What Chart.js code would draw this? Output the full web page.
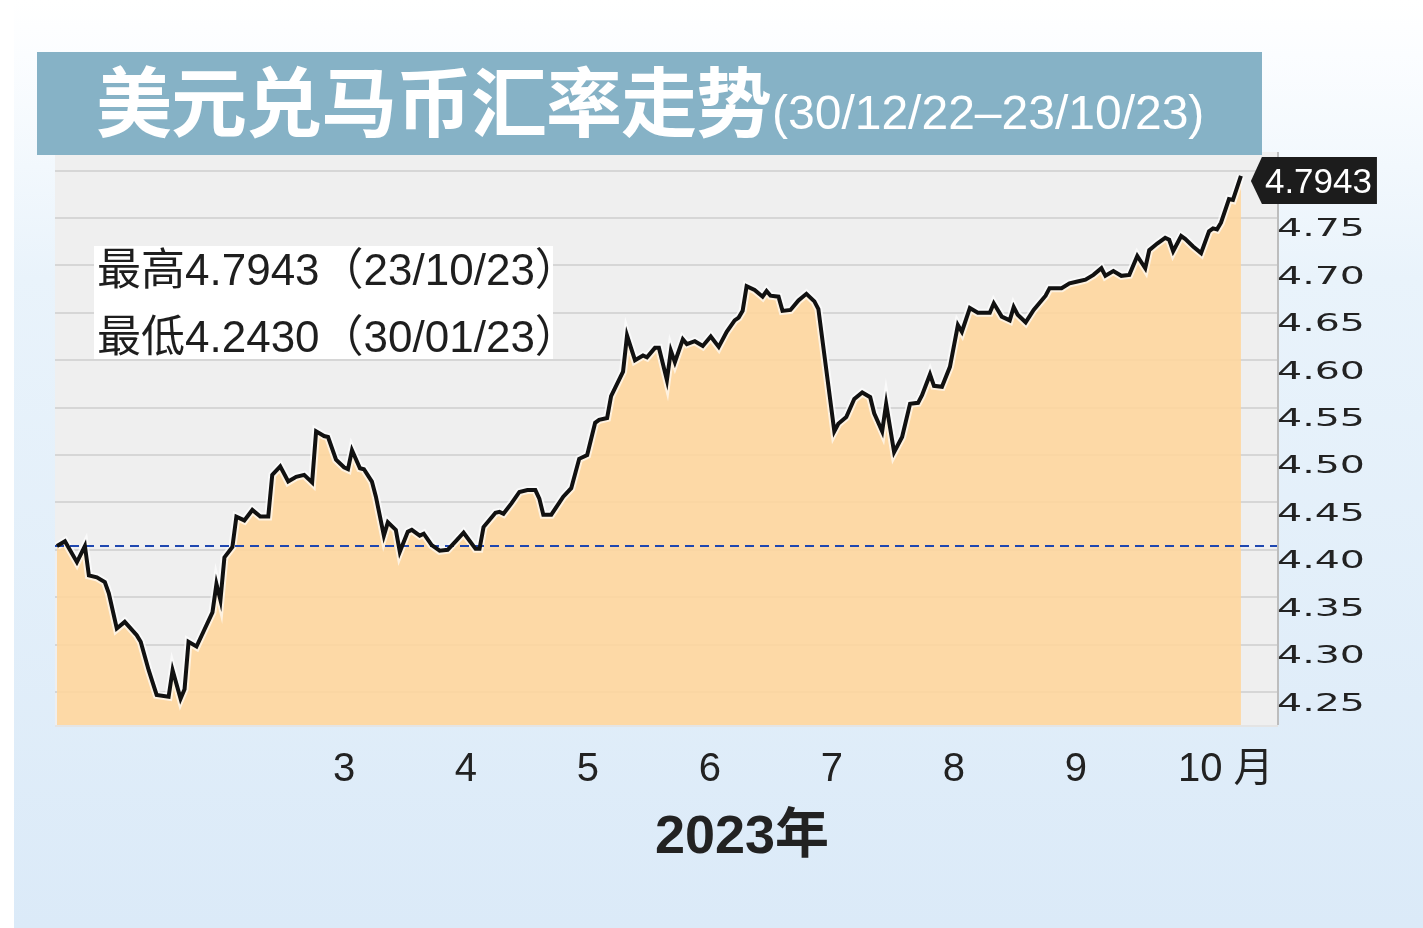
<!DOCTYPE html>
<html lang="zh">
<head>
<meta charset="utf-8">
<title>美元兑马币汇率走势</title>
<script src="https://cdn.jsdelivr.net/npm/chart.js@4.4.0/dist/chart.umd.min.js"></script>
<style>
  html, body { margin: 0; padding: 0; overflow: hidden; background: #fff; }
  #wrap { position: relative; width: 1423px; height: 928px; }
</style>
</head>
<body>
<div id="wrap"><canvas id="fx" width="1423" height="928"></canvas></div>
<script>
// USD/MYR trend 30/12/22 - 23/10/23
// x = days counted from 30/12/22
const tradeDays = [
  0, 2, 5, 7, 8, 10, 12, 13, 15, 17, 20, 21, 23, 25, 28, 29, 31, 32, 33, 35, 39, 40, 41, 42, 44, 45, 47, 49,
  51, 53, 54, 56, 58, 60, 62, 64, 65, 67, 68, 70, 72, 73, 74, 76, 77, 79, 80, 82, 83, 85, 86, 88, 89, 91, 92, 94, 96, 98, 100,
  102, 105, 106, 107, 110, 111, 112, 114, 116, 118, 120, 121, 122, 124, 127, 129, 131, 133, 135, 136, 138, 139, 142, 143, 145, 147, 148, 150,
  151, 153, 154, 155, 157, 158, 160, 162, 164, 166, 168, 170, 171, 172, 173, 175, 177, 178, 179, 181, 182, 184, 186, 188, 190, 191, 195, 196, 198, 200,
  202, 204, 205, 207, 208, 210, 212, 214, 216, 217, 219, 220, 222, 224, 226, 227, 229, 231, 234, 235, 237, 239, 240, 241, 243, 245, 248, 249,
  252, 254, 256, 258, 260, 262, 263, 265, 267, 269, 271, 273, 274, 276, 278, 279, 280, 282, 283, 285, 287, 289, 290, 291, 292, 294, 295, 297
];
const usdMyr = [
  4.404, 4.409, 4.387, 4.404, 4.373, 4.371, 4.366, 4.354, 4.317, 4.324, 4.310, 4.303, 4.273, 4.247, 4.245, 4.273, 4.243, 4.253, 4.303, 4.298, 4.334, 4.364, 4.347, 4.392, 4.403, 4.435, 4.431, 4.442,
  4.435, 4.435, 4.479, 4.488, 4.472, 4.477, 4.479, 4.471, 4.525, 4.520, 4.519, 4.495, 4.487, 4.485, 4.505, 4.486, 4.485, 4.472, 4.456, 4.415, 4.429, 4.421, 4.398, 4.419, 4.421, 4.415, 4.417, 4.405, 4.399, 4.400, 4.409,
  4.418, 4.401, 4.401, 4.424, 4.439, 4.440, 4.438, 4.449, 4.461, 4.463, 4.463, 4.454, 4.437, 4.437, 4.456, 4.465, 4.496, 4.500, 4.534, 4.537, 4.539, 4.562, 4.588, 4.626, 4.600, 4.605, 4.603, 4.613,
  4.613, 4.579, 4.610, 4.598, 4.622, 4.617, 4.620, 4.615, 4.625, 4.614, 4.630, 4.642, 4.645, 4.652, 4.678, 4.674, 4.667, 4.673, 4.668, 4.667, 4.652, 4.653, 4.663, 4.670, 4.662, 4.654, 4.525, 4.533, 4.540, 4.559,
  4.566, 4.561, 4.544, 4.525, 4.554, 4.503, 4.519, 4.554, 4.555, 4.563, 4.585, 4.573, 4.572, 4.593, 4.637, 4.630, 4.655, 4.650, 4.650, 4.660, 4.646, 4.642, 4.656, 4.648, 4.640, 4.653, 4.668, 4.676,
  4.676, 4.681, 4.683, 4.685, 4.690, 4.697, 4.689, 4.694, 4.689, 4.690, 4.710, 4.697, 4.716, 4.723, 4.729, 4.727, 4.715, 4.731, 4.728, 4.720, 4.713, 4.736, 4.739, 4.738, 4.745, 4.770, 4.769, 4.7943
];
const refRate = 4.404; // dashed line: level at start of year

const yTicks = [4.25, 4.30, 4.35, 4.40, 4.45, 4.50, 4.55, 4.60, 4.65, 4.70, 4.75, 4.80];
const yTickLabels = ['4.25', '4.30', '4.35', '4.40', '4.45', '4.50', '4.55', '4.60', '4.65', '4.70', '4.75', ''];

const monthLabels = ['3', '4', '5', '6', '7', '8', '9', '10 月'];
const monthLabelDays = [72, 102.6, 133.2, 163.8, 194.4, 225, 255.6, 293.2];

const titleMain = '美元兑马币汇率走势';
const titleRange = '(30/12/22–23/10/23)';
const highText = '最高4.7943（23/10/23）';
const lowText = '最低4.2430（30/01/23）';
const yearText = '2023年';
const lastText = '4.7943';

const pts = tradeDays.map((d, i) => ({x: d, y: usdMyr[i]}));

// background, title, labels and the end tag
const paper = {
  id: 'paper',
  beforeDraw(chart) {
    const {ctx, width, height, chartArea: a} = chart;
    const g = ctx.createLinearGradient(0, 0, 0, height);
    g.addColorStop(0, '#ffffff');
    g.addColorStop(0.06, '#fbfdff');
    g.addColorStop(0.3, '#e9f3fb');
    g.addColorStop(1, '#dbeaf8');
    ctx.save();
    ctx.fillStyle = g;
    ctx.fillRect(0, 0, width, height);
    ctx.fillStyle = '#ffffff';
    ctx.fillRect(0, 0, 14, height);
    ctx.fillStyle = '#efefef';
    ctx.fillRect(a.left, a.top, a.right - a.left, a.bottom - a.top);
    ctx.restore();
  },
  afterDraw(chart) {
    const {ctx, chartArea: a} = chart;
    const xs = chart.scales.x, ys = chart.scales.y;
    ctx.save();

    // plot frame
    ctx.fillStyle = '#bdbdbd';
    ctx.fillRect(a.right - 1, a.top, 2, a.bottom - a.top);
    ctx.fillStyle = '#e4e4e4';
    ctx.fillRect(a.left, a.bottom, a.right - a.left, 2);

    // y labels (wide face)
    ctx.fillStyle = '#222';
    ctx.font = '25px "DejaVu Sans"';
    ctx.textAlign = 'left';
    ctx.textBaseline = 'middle';
    const sx = 88 / ctx.measureText('4.75').width;
    yTicks.forEach((v, i) => {
      if (!yTickLabels[i]) return;
      ctx.save();
      ctx.translate(a.right - 1, ys.getPixelForValue(v) + 12);
      ctx.scale(sx, 1);
      ctx.fillText(yTickLabels[i], 0, 0);
      ctx.restore();
    });

    // month labels
    ctx.font = '40px "Liberation Sans", "Noto Sans CJK SC"';
    ctx.textAlign = 'center';
    monthLabels.forEach((m, i) => {
      ctx.fillText(m, xs.getPixelForValue(monthLabelDays[i]), a.bottom + 45);
    });
    ctx.font = 'bold 54px "Liberation Sans", "Noto Sans CJK SC"';
    ctx.textBaseline = 'alphabetic';
    ctx.fillText(yearText, 742, a.bottom + 128);

    // title bar
    ctx.fillStyle = '#86b2c6';
    ctx.fillRect(37, 52, 1225, 103);
    ctx.fillStyle = '#ffffff';
    ctx.textAlign = 'left';
    ctx.font = 'bold 76px "Noto Sans CJK SC"';
    ctx.letterSpacing = '-1px';
    ctx.fillText(titleMain, 96, 131);
    ctx.letterSpacing = '0px';
    ctx.font = '48px "Liberation Sans"';
    ctx.fillText(titleRange, 772, 129);

    // high / low note
    ctx.fillStyle = '#ffffff';
    ctx.fillRect(94, 246, 459, 113);
    ctx.fillStyle = '#1e1e1e';
    ctx.font = '44px "Liberation Sans", "Noto Sans CJK SC"';
    ctx.fillText(highText, 97, 285);
    ctx.fillText(lowText, 97, 352);

    // end value tag pointing at the last point
    const meta = chart.getDatasetMeta(2);
    const p = meta.data[meta.data.length - 1];
    const tx = p.x + 10, ty = p.y + 5;
    ctx.fillStyle = '#1c1c1c';
    ctx.beginPath();
    ctx.moveTo(tx, ty);
    ctx.lineTo(tx + 11, ty - 24);
    ctx.lineTo(tx + 126, ty - 24);
    ctx.lineTo(tx + 126, ty + 23);
    ctx.lineTo(tx + 11, ty + 23);
    ctx.closePath();
    ctx.fill();
    ctx.fillStyle = '#ffffff';
    ctx.font = '35px "Liberation Sans"';
    ctx.fillText(lastText, tx + 14, ty + 12);

    ctx.restore();
  }
};

new Chart(document.getElementById('fx'), {
  type: 'line',
  data: {
    datasets: [
      { // halo under the line + area fill
        data: pts, order: 3,
        borderColor: 'rgba(255,255,255,0.65)', borderWidth: 8,
        fill: 'start', backgroundColor: 'rgba(255,214,156,0.875)',
        pointRadius: 0, tension: 0
      },
      {
        data: [{x: -0.5, y: refRate}, {x: 306.3, y: refRate}], order: 2,
        borderColor: '#1f47b0', borderWidth: 2, borderDash: [9, 6],
        fill: false, pointRadius: 0
      },
      {
        data: pts, order: 1,
        borderColor: '#111111', borderWidth: 4, borderJoinStyle: 'miter',
        fill: false, pointRadius: 0, tension: 0
      }
    ]
  },
  options: {
    responsive: false,
    animation: false,
    events: [],
    layout: { padding: { left: 55, right: 145, top: 152, bottom: 203 } },
    plugins: { legend: { display: false }, tooltip: { enabled: false } },
    scales: {
      x: { type: 'linear', display: false, min: -0.5, max: 306.3 },
      y: {
        type: 'linear', position: 'right',
        min: 4.2152, max: 4.8196,
        afterBuildTicks: s => { s.ticks = yTicks.map(v => ({value: v})); },
        ticks: { display: false },
        grid: { color: '#d6d6d6', lineWidth: 2, drawTicks: false },
        border: { display: false }
      }
    }
  },
  plugins: [paper]
});
</script>
</body>
</html>
